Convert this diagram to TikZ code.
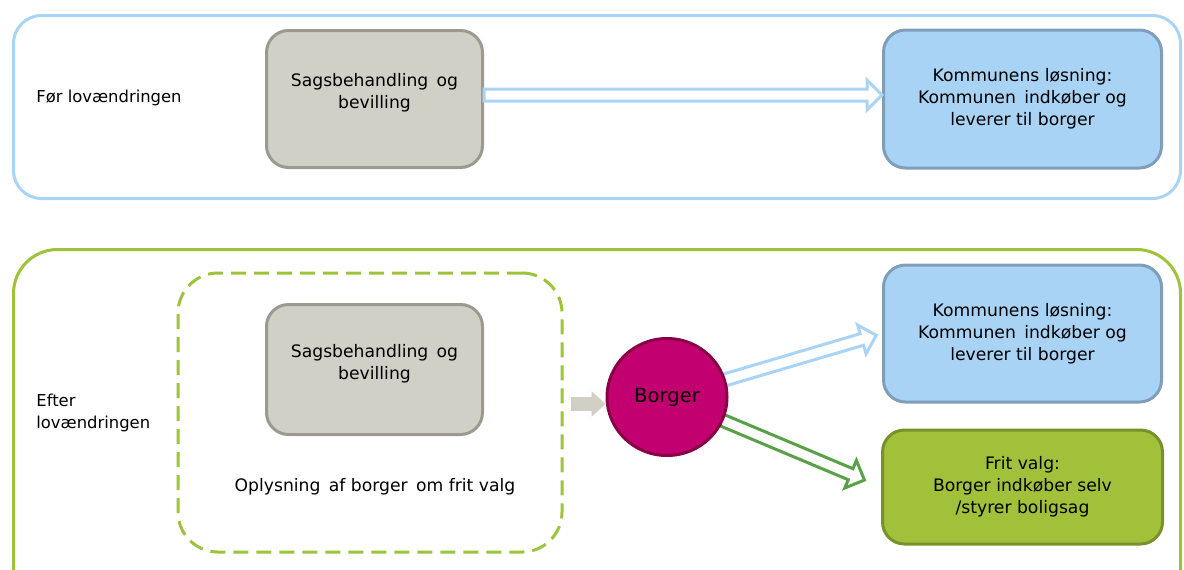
\documentclass[tikz,border=0pt]{standalone}
\usepackage{fontspec}
\setmainfont{DejaVu Sans}
\usepackage{tikz}
\usetikzlibrary{shapes.geometric, arrows.meta, positioning, calc}
\pgfdeclarelayer{background}
\pgfsetlayers{background,main}
\definecolor{frameblue}{HTML}{A9D4F5}
\definecolor{bluefill}{HTML}{A8D3F4}
\definecolor{blueline}{HTML}{7F9EB9}
\definecolor{greyfill}{HTML}{D0D0C7}
\definecolor{greyline}{HTML}{9B9A8F}
\definecolor{framegreen}{HTML}{9DC33B}
\definecolor{greenfill}{HTML}{A1C13B}
\definecolor{greenline}{HTML}{76922B}
\definecolor{arrowgreen}{HTML}{58A146}
\definecolor{borgerfill}{HTML}{C2006F}
\definecolor{borgerline}{HTML}{8A0047}
\tikzstyle{greybox} = [rectangle, rounded corners=11pt, minimum width=108pt, minimum height=68.5pt, align=center, draw=greyline, fill=greyfill, line width=1.5pt, font=\fontsize{8.6}{11}\selectfont]
\tikzstyle{bluebox} = [rectangle, rounded corners=11pt, minimum width=139pt, minimum height=69pt, align=center, draw=blueline, fill=bluefill, line width=1.5pt, font=\fontsize{8.6}{11}\selectfont]
\tikzstyle{greenbox} = [rectangle, rounded corners=11pt, minimum width=140pt, minimum height=57pt, align=center, draw=greenline, fill=greenfill, line width=1.5pt, font=\fontsize{8.6}{11}\selectfont]
\tikzstyle{person} = [ellipse, minimum width=60pt, minimum height=58.5pt, draw=borgerline, fill=borgerfill, line width=1.5pt, font=\fontsize{9.8}{11}\selectfont]
\tikzstyle{lbl} = [align=left, anchor=west, inner sep=0pt, font=\fontsize{8.2}{11}\selectfont]
\tikzstyle{hollow} = [line width=1.5pt, fill=white, line join=miter]
\tikzstyle{fillarrow} = [line width=7pt, draw=greyfill, -{Triangle[length=7pt, width=12.5pt]}]
% hollow block arrow from #1 to #2
\newcommand{\hollowarrow}[3]{%
    \coordinate (hc) at ($(#2)!7.5pt!(#1)$);
    \draw[hollow, draw=#3] ($(#1)!3pt!90:(#2)$) -- ($(hc)!3pt!90:(#2)$) -- ($(hc)!7.5pt!90:(#2)$)
        -- (#2) -- ($(hc)!7.5pt!-90:(#2)$) -- ($(hc)!3pt!-90:(#2)$) -- ($(#1)!3pt!-90:(#2)$) -- cycle;
}

\begin{document}
\begin{tikzpicture}[x=0.5pt, y=-0.5pt]
    \useasboundingbox (0,0) rectangle (1184,569);
    % frames
    \draw[frameblue, line width=1.5pt, rounded corners=14pt] (13.5,15.5) rectangle (1180.5,198.5);
    \draw[framegreen, line width=1.5pt, rounded corners=22pt] (13.5,249.5) rectangle (1180.5,640);

    \node[lbl] (foer) at (36,98) {Før lovændringen};
    \node[greybox] (sag1) at (374.5,99) {Sagsbehandling\, og\\bevilling\\[-3pt]\mbox{}};
    \node[bluebox, right=199pt of sag1] (kom1) {Kommunens løsning:\\Kommunen\, indkøber og\\leverer til borger};

    \node[lbl] (efter) at (36,413) {Efter\\lovændringen};
    \node[rectangle, rounded corners=20pt, dashed, dash pattern=on 7.5pt off 4pt, draw=framegreen, line width=1.5pt, minimum width=192pt, minimum height=139.5pt] (dash) at (370,412.5) {};
    \node[greybox, below=67pt of sag1, minimum height=65pt] (sag2) {Sagsbehandling\, og\\bevilling\\[-3pt]\mbox{}};
    \node[lbl, anchor=center, align=center, font=\fontsize{8.6}{11}\selectfont] (oply) at (375,487) {Oplysning\, af borger\, om frit valg};
    \node[person] (borger) at (667,397) {Borger};
    \node[bluebox, below=47pt of kom1, minimum height=68.5pt] (kom2) {Kommunens løsning:\\Kommunen\, indkøber og\\leverer til borger};
    \node[greenbox, below=12.5pt of kom2] (frit) {Frit valg:\\Borger indkøber selv\\/styrer boligsag};

    \coordinate (a1s) at ([yshift=2pt]sag1.east);
    \coordinate (a1e) at ([yshift=2pt]kom1.west);
    \coordinate (a2e) at ($(kom2.west)!3pt!(borger)$);
    \coordinate (a3e) at ($(frit.west)!9pt!(borger)$);
    \coordinate (gin) at ([yshift=-3.5pt]borger.west);
    \hollowarrow{a1s}{a1e}{frameblue}
    \draw[fillarrow, shorten <=3.5pt] (dash.east |- gin) -- (gin);
    \begin{pgfonlayer}{background}
        \hollowarrow{borger}{a2e}{frameblue}
        \hollowarrow{borger}{a3e}{arrowgreen}
    \end{pgfonlayer}
\end{tikzpicture}
\end{document}
